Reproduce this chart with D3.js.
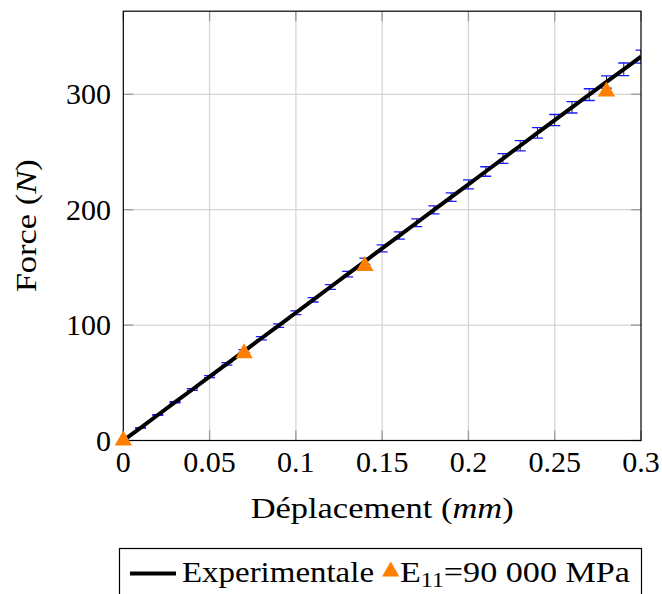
<!DOCTYPE html>
<html>
<head>
<meta charset="utf-8">
<script src="https://cdn.jsdelivr.net/npm/d3@7"></script>
</head>
<body style="margin:0">
<svg id="chart" width="662" height="594"></svg>
<script>
// Experimental force-displacement curve
const displacement = [0, 0.01, 0.02, 0.03, 0.04, 0.05, 0.06, 0.07, 0.08, 0.09, 0.10,
  0.11, 0.12, 0.13, 0.14, 0.15, 0.16, 0.17, 0.18, 0.19, 0.20,
  0.21, 0.22, 0.23, 0.24, 0.25, 0.26, 0.27, 0.28, 0.29, 0.30];
const force = [0, 11.0, 22.1, 33.2, 44.2, 55.3, 66.4, 77.5, 88.6, 99.6, 110.7,
  121.9, 133.0, 144.2, 155.3, 166.5, 177.6, 188.7, 199.8, 210.9, 222.0,
  233.1, 244.3, 255.4, 266.6, 277.7, 288.7, 299.7, 310.7, 321.6, 332.6];
const forceError = [0, 0.2, 0.4, 0.5, 0.7, 0.9, 1.1, 1.2, 1.4, 1.5, 1.6,
  1.9, 2.1, 2.4, 2.7, 3.0, 3.1, 3.3, 3.5, 3.7, 3.9,
  4.1, 4.2, 4.4, 4.6, 4.8, 4.9, 5.1, 5.3, 5.5, 5.6];

// Model prediction with E11 = 90 000 MPa
const modelDisplacement = [0, 0.07, 0.14, 0.28];
const modelForce = [0, 75.6, 151.2, 302.4];

const xTicks = [0, 0.05, 0.1, 0.15, 0.2, 0.25, 0.3];
const xTickLabels = ["0", "0.05", "0.1", "0.15", "0.2", "0.25", "0.3"];
const yTicks = [0, 100, 200, 300];
const yTickLabels = ["0", "100", "200", "300"];

const svg = d3.select("#chart");
const plot = { left: 123.3, right: 641, top: 11.2, bottom: 440.5 };

const x = d3.scaleLinear().domain([0, 0.3]).range([plot.left, plot.right]);
const y = d3.scaleLinear().domain([0, 372]).range([plot.bottom, plot.top]);

const orange = "#ff8000";
const fontSize = 30;

// every label is set in a serif face
function addText(parent) {
  return parent.append("text")
    .attr("font-family", "'Liberation Serif'")
    .attr("font-size", fontSize);
}

svg.append("defs").append("clipPath").attr("id", "plotClip")
  .append("rect")
  .attr("x", plot.left).attr("y", plot.top)
  .attr("width", plot.right - plot.left).attr("height", plot.bottom - plot.top);

// grid
const grid = svg.append("g");
xTicks.slice(1, -1).forEach(t => {
  grid.append("line").attr("x1", x(t)).attr("x2", x(t))
    .attr("y1", plot.top).attr("y2", plot.bottom)
    .attr("stroke", "#d6d6d6").attr("stroke-width", 1.3);
});
yTicks.slice(1).forEach(t => {
  grid.append("line").attr("x1", plot.left).attr("x2", plot.right)
    .attr("y1", y(t)).attr("y2", y(t))
    .attr("stroke", "#d6d6d6").attr("stroke-width", 1.3);
});

// inward tick marks on all four sides
const tickLen = 10;
const ticks = svg.append("g").attr("stroke", "#9a9a9a").attr("stroke-width", 1.3);
xTicks.forEach(t => {
  ticks.append("line").attr("x1", x(t)).attr("x2", x(t))
    .attr("y1", plot.bottom).attr("y2", plot.bottom - tickLen);
  ticks.append("line").attr("x1", x(t)).attr("x2", x(t))
    .attr("y1", plot.top).attr("y2", plot.top + tickLen);
});
yTicks.forEach(t => {
  ticks.append("line").attr("x1", plot.left).attr("x2", plot.left + tickLen)
    .attr("y1", y(t)).attr("y2", y(t));
  ticks.append("line").attr("x1", plot.right).attr("x2", plot.right - tickLen)
    .attr("y1", y(t)).attr("y2", y(t));
});

// data layer (clipped)
const data = displacement.map((d, i) => ({ x: d, y: force[i], e: forceError[i] }));
const dataLayer = svg.append("g").attr("clip-path", "url(#plotClip)");

const bars = dataLayer.append("g");
const capHalf = 5.5;
data.forEach(d => {
  bars.append("line")
    .attr("x1", x(d.x)).attr("x2", x(d.x))
    .attr("y1", y(d.y - d.e)).attr("y2", y(d.y + d.e))
    .attr("stroke", "#222").attr("stroke-width", 1);
  [d.y + d.e, d.y - d.e].forEach(v => {
    bars.append("line")
      .attr("x1", x(d.x) - capHalf).attr("x2", x(d.x) + capHalf)
      .attr("y1", y(v)).attr("y2", y(v))
      .attr("stroke", "#1a1aff").attr("stroke-width", 1.3);
  });
});

const line = d3.line().x(d => x(d.x)).y(d => y(d.y));
dataLayer.append("path").datum(data)
  .attr("d", line)
  .attr("fill", "none").attr("stroke", "#000").attr("stroke-width", 4)
  .attr("stroke-linejoin", "round");

// frame
svg.append("rect")
  .attr("x", plot.left).attr("y", plot.top)
  .attr("width", plot.right - plot.left).attr("height", plot.bottom - plot.top)
  .attr("fill", "none").attr("stroke", "#000").attr("stroke-width", 1.2);

// model markers (not clipped)
const tri = d3.symbol().type(d3.symbolTriangle).size(130);
modelDisplacement.forEach((d, i) => {
  svg.append("path")
    .attr("d", tri)
    .attr("transform", `translate(${x(d)},${y(modelForce[i])})`)
    .attr("fill", orange);
});

// tick labels
xTicks.forEach((t, i) => {
  addText(svg).attr("x", x(t)).attr("y", 472)
    .attr("text-anchor", "middle")
    .text(xTickLabels[i]);
});
yTicks.forEach((t, i) => {
  addText(svg).attr("x", 111).attr("y", y(t) + 10)
    .attr("text-anchor", "end")
    .text(yTickLabels[i]);
});

// axis titles
const xTitle = addText(svg)
  .attr("x", (plot.left + plot.right) / 2).attr("y", 518)
  .attr("text-anchor", "middle")
  .attr("textLength", 263).attr("lengthAdjust", "spacingAndGlyphs");
xTitle.append("tspan").text("Déplacement (");
xTitle.append("tspan").attr("font-style", "italic").text("mm");
xTitle.append("tspan").text(")");

const yTitle = addText(svg)
  .attr("transform", `translate(36,${(plot.top + plot.bottom) / 2}) rotate(-90)`)
  .attr("text-anchor", "middle")
  .attr("textLength", 133).attr("lengthAdjust", "spacingAndGlyphs");
yTitle.append("tspan").text("Force (");
yTitle.append("tspan").attr("font-style", "italic").text("N");
yTitle.append("tspan").text(")");

// legend
const legend = svg.append("g");
legend.append("rect")
  .attr("x", 119.5).attr("y", 548.5).attr("width", 522).attr("height", 60)
  .attr("fill", "#fff").attr("stroke", "#000").attr("stroke-width", 1.2);
legend.append("line")
  .attr("x1", 130).attr("x2", 176).attr("y1", 573.5).attr("y2", 573.5)
  .attr("stroke", "#000").attr("stroke-width", 4);
addText(legend)
  .attr("x", 182).attr("y", 582)
  .attr("textLength", 192).attr("lengthAdjust", "spacingAndGlyphs")
  .text("Experimentale");
legend.append("path")
  .attr("d", tri)
  .attr("transform", "translate(390.7,571.5)")
  .attr("fill", orange);
const modelLabel = addText(legend)
  .attr("x", 400).attr("y", 582)
  .attr("textLength", 230).attr("lengthAdjust", "spacingAndGlyphs");
modelLabel.append("tspan").text("E");
modelLabel.append("tspan").attr("font-size", 21).attr("dy", 5).text("11");
modelLabel.append("tspan").attr("dy", -5).text("=90 000 MPa");
</script>
</body>
</html>
